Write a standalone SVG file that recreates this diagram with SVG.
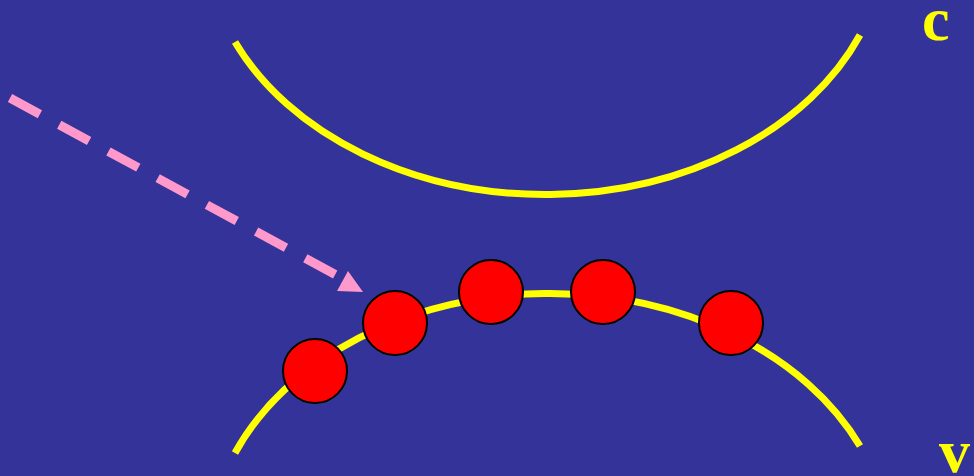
<svg xmlns="http://www.w3.org/2000/svg" width="974" height="476" viewBox="0 0 974 476">
<style>
.band{fill:none;stroke:#ffff00;stroke-width:7}
.dot{fill:#ff0000;stroke:#000000;stroke-width:2}
.lbl{font-family:"Liberation Serif","Times New Roman",serif;font-size:62px;font-weight:bold;fill:#ffff00}
.dash{stroke:#ff99cc;stroke-width:9;stroke-dasharray:34 22;fill:none}
</style>
<rect x="0" y="0" width="974" height="476" fill="#333399"/>
<g id="band-c"><path class="band" d="M235,42 A341,260 0 0 0 860,35"/></g>
<g id="band-v"><path class="band" d="M235,453 A341,260 0 0 1 860,446"/></g>
<g id="connectors">
<line class="dash" x1="10" y1="98" x2="338" y2="276"/>
<polygon points="337,291 348,271 363,292" fill="#ff99cc"/>
</g>
<g id="dot1"><circle class="dot" cx="315" cy="371" r="32"/></g>
<g id="dot2"><circle class="dot" cx="395" cy="323" r="32"/></g>
<g id="dot3"><circle class="dot" cx="491" cy="292" r="32"/></g>
<g id="dot4"><circle class="dot" cx="603" cy="292" r="32"/></g>
<g id="dot5"><circle class="dot" cx="731" cy="323" r="32"/></g>
<g id="label-c"><text class="lbl" x="922" y="40">c</text></g>
<g id="label-v"><text class="lbl" x="939" y="472">v</text></g>
</svg>
